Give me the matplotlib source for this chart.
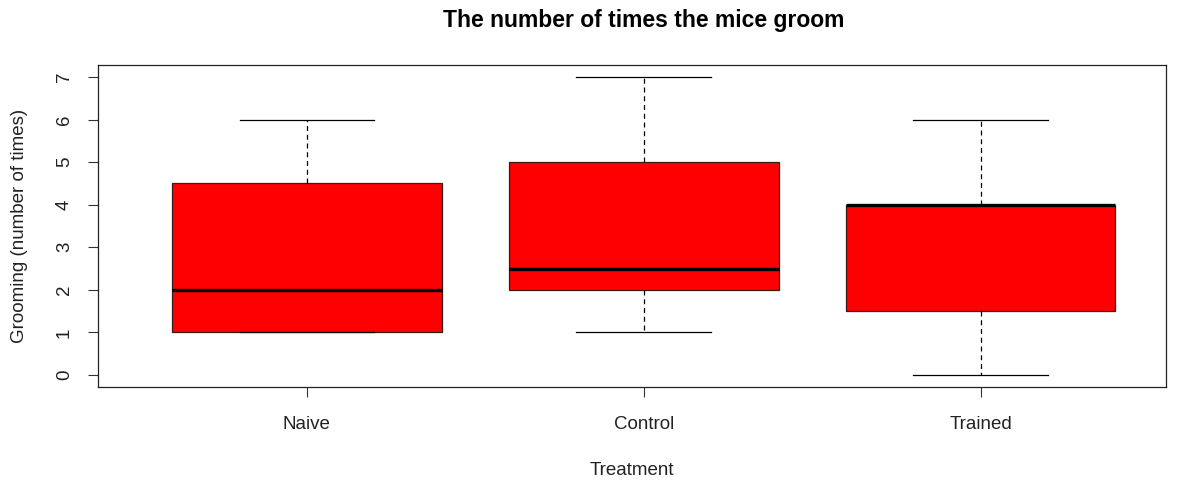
import matplotlib.pyplot as plt

plt.rcParams['font.family'] = ['Liberation Sans', 'DejaVu Sans']

groups = ['Naive', 'Control', 'Trained']
whisker_low = [1, 1, 0]
q1 = [1, 2, 1.5]
medians = [2, 2.5, 4]
q3 = [4.5, 5, 4]
whisker_high = [6, 7, 6]

stats = []
for i, g in enumerate(groups):
    stats.append({'label': g, 'whislo': whisker_low[i], 'q1': q1[i], 'med': medians[i],
                  'q3': q3[i], 'whishi': whisker_high[i], 'fliers': []})

fig = plt.figure(figsize=(11.83, 4.8), dpi=100)
ax = fig.add_axes([98 / 1183, 1 - 387 / 480, (1166 - 98) / 1183, (387 - 65) / 480])

ax.bxp(stats, positions=[1, 2, 3], widths=0.8, patch_artist=True,
       boxprops=dict(facecolor='#ff0000', edgecolor='#3a1a1a', linewidth=0.9),
       medianprops=dict(color='black', linewidth=2.4, solid_capstyle='butt'),
       whiskerprops=dict(color='black', linestyle=(0, (4, 3)), linewidth=0.9),
       capprops=dict(color='black', linewidth=0.9),
       capwidths=0.4)

ax.set_xlim(0.38, 3.55)
ax.set_ylim(-0.28, 7.28)
ax.set_yticks(range(0, 8))
ax.set_yticklabels([str(v) for v in range(0, 8)], rotation=90, va='center')
ax.set_xticks([1, 2, 3])
ax.set_xticklabels(groups)
ax.tick_params(axis='both', labelsize=13.5, length=7, width=0.8, colors='#333333', labelcolor='#222222')
ax.tick_params(axis='x', pad=14)
ax.tick_params(axis='y', pad=11)
for s in ax.spines.values():
    s.set_linewidth(0.9)
    s.set_color('#222222')

ax.set_xlabel('Treatment', fontsize=13.5, color='#222222', labelpad=21)
ax.set_ylabel('Grooming (number of times)', fontsize=13.5, color='#222222', labelpad=20)
fig.text(644 / 1183, 1 - 20 / 480, 'The number of times the mice groom', ha='center', va='center',
         fontsize=16.5, fontweight='bold')

fig.savefig('out.png', dpi=100)
